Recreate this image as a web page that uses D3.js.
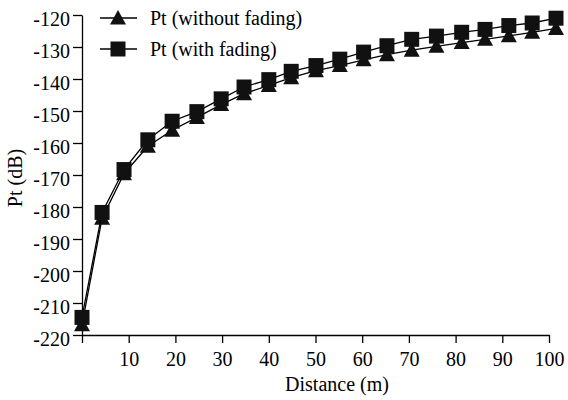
<!DOCTYPE html>
<html>
<head>
<meta charset="utf-8">
<script src="https://cdn.jsdelivr.net/npm/d3@7"></script>
<style>
  body { margin: 0; background: #fff; }
  svg text { font-family: "Liberation Serif", "Times New Roman", Times, "DejaVu Serif", serif !important; fill: #000; }
</style>
</head>
<body>
<div id="chart-area"></div>
<script>
// Data
var distance = [0, 4.3, 9, 14.1, 19.3, 24.6, 29.8, 34.7, 40, 44.8, 50.1,
                55.2, 60.3, 65.3, 70.6, 75.9, 81.3, 86.3, 91.4, 96.4, 101.5];
var ptWithout = [-216.8, -183.5, -169.6, -161, -156, -152, -148, -144.6, -142, -139.6, -137.4,
                 -135.8, -134, -132.4, -131, -129.8, -128.6, -127.6, -126.5, -125.4, -124.2];
var ptWith = [-214.5, -181.7, -168.3, -159, -153.2, -150.2, -146.2, -142.5, -140.2, -137.6, -135.8,
              -133.8, -131.6, -129.6, -127.6, -126.6, -125.4, -124.5, -123.3, -122.5, -121];
var xTicks = [0, 10, 20, 30, 40, 50, 60, 70, 80, 90, 100];
var yTicks = [-220, -210, -200, -190, -180, -170, -160, -150, -140, -130, -120];
var seriesNames = ["Pt (without fading)", "Pt (with fading)"];

var width = 568, height = 400;

var svg = d3.select("#chart-area")
    .append("svg")
        .attr("width", width)
        .attr("height", height);

// Scales
var x = d3.scaleLinear().domain([0, 100]).range([82, 549]);
var y = d3.scaleLinear().domain([-220, -120]).range([335, 15]);

// X Axis
var xAxisCall = d3.axisBottom(x)
    .tickValues(xTicks)
    .tickSize(8)
    .tickSizeOuter(0)
    .tickPadding(9)
    .tickFormat(function (d) { return d === 0 ? "" : String(d); });
var xAxisGroup = svg.append("g")
    .attr("transform", "translate(0," + y(-220) + ")")
    .call(xAxisCall);

// Y Axis
var yAxisCall = d3.axisLeft(y)
    .tickValues(yTicks)
    .tickSize(9)
    .tickSizeOuter(0)
    .tickPadding(3)
    .tickFormat(function (d) { return String(d); });
var yAxisGroup = svg.append("g")
    .attr("transform", "translate(" + x(0) + ",0)")
    .call(yAxisCall);

svg.selectAll("g").attr("font-family", null);
svg.selectAll(".domain, .tick line")
    .attr("stroke", "#000")
    .attr("stroke-width", 1.3);
svg.selectAll(".tick text")
    .attr("font-size", "20px")
    .attr("fill", "#000");
yAxisGroup.selectAll(".tick text").attr("dy", "0.5em");

// Labels
svg.append("text")
    .attr("x", 337)
    .attr("y", 391)
    .attr("font-size", "20px")
    .attr("text-anchor", "middle")
    .text("Distance (m)");

svg.append("text")
    .attr("transform", "translate(22," + 178 + ") rotate(-90)")
    .attr("font-size", "20px")
    .attr("text-anchor", "middle")
    .text("Pt (dB)");

// Markers
var triPath = "M0,-8L8,6.5L-8,6.5Z";
var sqPath = "M-7.5,-7.5H7.5V7.5H-7.5Z";

function drawSeries(values, shape) {
    var pts = distance.map(function (d, i) { return [x(d), y(values[i])]; });
    svg.append("path")
        .attr("d", d3.line()(pts))
        .attr("fill", "none")
        .attr("stroke", "#000")
        .attr("stroke-width", 1.3);
    svg.selectAll(null)
        .data(pts)
        .enter()
        .append("path")
            .attr("d", shape)
            .attr("transform", function (p) { return "translate(" + p[0] + "," + p[1] + ")"; })
            .attr("fill", "#111");
}

drawSeries(ptWithout, triPath);
drawSeries(ptWith, sqPath);

// Legend
var legend = [
    {name: seriesNames[0], shape: triPath, y: 18},
    {name: seriesNames[1], shape: sqPath, y: 49}
];
legend.forEach(function (l) {
    svg.append("line")
        .attr("x1", 100).attr("x2", 137)
        .attr("y1", l.y).attr("y2", l.y)
        .attr("stroke", "#000")
        .attr("stroke-width", 1.3);
    svg.append("path")
        .attr("d", l.shape)
        .attr("transform", "translate(118," + l.y + ")")
        .attr("fill", "#111");
    svg.append("text")
        .attr("x", 150)
        .attr("y", l.y + 7)
        .attr("font-size", "20px")
        .text(l.name);
});
</script>
</body>
</html>
